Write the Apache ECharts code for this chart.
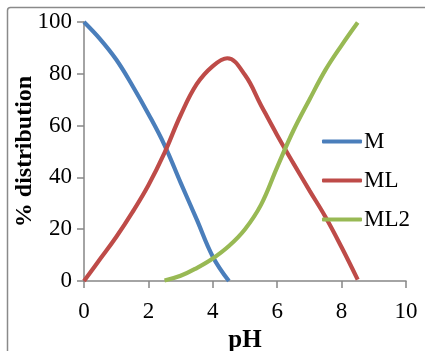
<!DOCTYPE html>
<html><head><meta charset="utf-8">
<script src="https://cdn.jsdelivr.net/npm/echarts@6/dist/echarts.min.js"></script>
<style>html,body{margin:0;padding:0;background:#fff}#c{width:425px;height:351px}</style>
</head><body><div id="c"></div>
<script>
const seriesNames = ['M', 'ML', 'ML2'];
const phM = [0, 0.5, 1, 1.5, 2, 2.5, 3, 3.5, 4, 4.5];
const valM = [100, 93.4, 85.5, 75.5, 64.5, 52.5, 38, 23.8, 9.4, 0];
const phML = [0, 0.5, 1, 1.5, 2, 2.5, 3, 3.5, 4, 4.45, 5, 5.5, 6, 6.5, 7, 7.5, 8, 8.5];
const valML = [0, 8.5, 17, 26.5, 37, 49.5, 64, 76, 83, 86, 79.5, 67.8, 56.3, 45.5, 35, 24.7, 13, 0.5];
const phML2 = [2.5, 3, 3.5, 4, 4.5, 5, 5.5, 6, 6.5, 7, 7.5, 8, 8.5];
const valML2 = [0.2, 2, 5, 8.7, 13.5, 20, 29.5, 44, 58, 70, 81.5, 91, 99.8];
const xTicks = [0, 2, 4, 6, 8, 10];
const yTicks = [0, 20, 40, 60, 80, 100];
const colors = ['#4A7EBB', '#BE4B48', '#98B954'];

const pairs = (xs, ys) => xs.map((x, i) => [x, ys[i]]);
const font = 'Liberation Serif';
const axisColor = '#868686';

const chart = echarts.init(document.getElementById('c'));
chart.setOption({
  animation: false,
  color: colors,
  graphic: [{
    type: 'rect', silent: true, z: -1,
    shape: { x: 7.5, y: 7.5, width: 600, height: 600, r: 3 },
    style: { fill: 'none', stroke: '#8a8a8a', lineWidth: 1.5 }
  }],
  grid: { left: 84, right: 19, top: 22, bottom: 70, containLabel: false, outerBoundsMode: 'none' },
  xAxis: {
    type: 'value', min: xTicks[0], max: xTicks[xTicks.length - 1], interval: 2,
    name: 'pH', nameLocation: 'middle', nameGap: 46,
    nameTextStyle: { fontFamily: font, fontWeight: 'bold', fontSize: 25, color: '#000' },
    axisLine: { show: true, onZero: false, lineStyle: { color: axisColor, width: 1.5 } },
    axisTick: { show: true, length: 7, lineStyle: { color: axisColor, width: 1.5 } },
    axisLabel: { fontFamily: font, fontSize: 23, color: '#000', margin: 19 },
    splitLine: { show: false }
  },
  yAxis: {
    type: 'value', min: yTicks[0], max: yTicks[yTicks.length - 1], interval: 20,
    name: '% distribution', nameLocation: 'middle', nameGap: 47, nameMoveOverlap: false,
    nameTextStyle: { fontFamily: font, fontWeight: 'bold', fontSize: 24, color: '#000' },
    axisLine: { show: true, lineStyle: { color: axisColor, width: 1.5 } },
    axisTick: { show: true, length: 7, lineStyle: { color: axisColor, width: 1.5 } },
    axisLabel: { fontFamily: font, fontSize: 23, color: '#000', margin: 12 },
    splitLine: { show: false }
  },
  legend: {
    orient: 'vertical', left: 317, top: 125, itemWidth: 40, itemHeight: 4, itemGap: 16,
    icon: 'roundRect',
    textStyle: { fontFamily: font, fontSize: 23, color: '#000', padding: [0, 0, 0, -3] },
    data: seriesNames
  },
  series: [
    { name: seriesNames[0], type: 'line', data: pairs(phM, valM) },
    { name: seriesNames[1], type: 'line', data: pairs(phML, valML) },
    { name: seriesNames[2], type: 'line', data: pairs(phML2, valML2) }
  ].map(s => Object.assign(s, { smooth: 0.4, showSymbol: false, symbol: 'none', lineStyle: { width: 4.2 } }))
});
</script></body></html>
